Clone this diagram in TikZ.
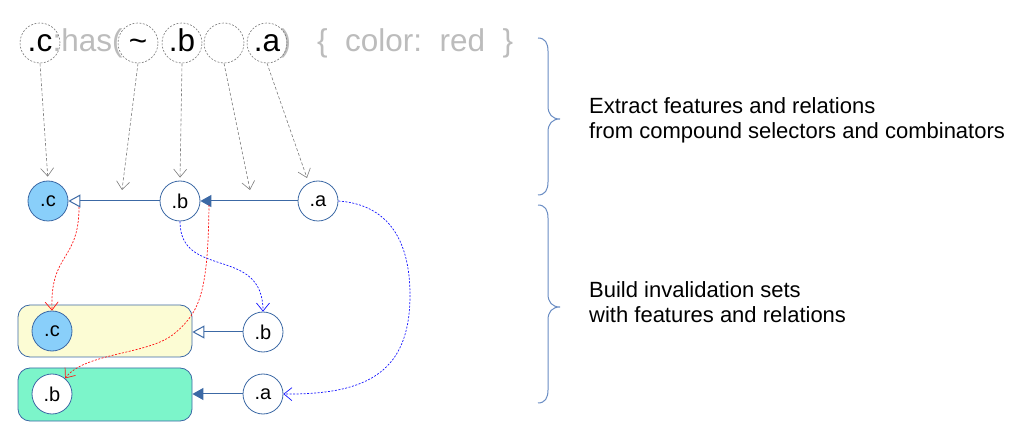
\documentclass[tikz,border=0pt]{standalone}
\usepackage{fontspec}
\setmainfont{Liberation Sans}
\usetikzlibrary{arrows.meta}
\definecolor{edgec}{RGB}{60,105,165}
\definecolor{bracec}{RGB}{105,140,195}
\definecolor{lightblu}{RGB}{137,207,250}
\definecolor{yellowbg}{RGB}{252,252,212}
\definecolor{greenbg}{RGB}{124,245,202}
\definecolor{txtgray}{RGB}{188,188,188}
\definecolor{dashgray}{RGB}{125,125,125}
\definecolor{redc}{RGB}{255,20,20}
\definecolor{bluec}{RGB}{20,20,255}
\tikzset{
  toptext/.style={inner sep=0pt, font=\fontsize{31.5}{36}\selectfont, text=black},
  graytext/.style={inner sep=0pt, font=\fontsize{31.5}{36}\selectfont, text=txtgray},
  dcircle/.style={circle, draw=dashgray, line width=0.6pt, dash pattern=on 2pt off 1.5pt, minimum size=40pt, inner sep=0pt},
  fnode/.style={circle, draw=edgec, line width=0.8pt, minimum size=40pt, inner sep=0pt, fill=white, font=\fontsize{20}{24}\selectfont},
  bluefill/.style={fill=lightblu},
  setbox/.style={rectangle, rounded corners=12pt, draw=edgec, line width=0.8pt, minimum width=174pt, minimum height=52pt, inner sep=0pt},
  maparrow/.style={draw=dashgray, line width=0.6pt, dash pattern=on 3pt off 2pt, -{Straight Barb[length=8pt,width=13pt]}},
  reldesc/.style={draw=edgec, line width=1pt, -{Triangle[open,length=12pt,width=13pt]}},
  relsib/.style={draw=edgec, line width=1pt, -{Triangle[length=11pt,width=12pt]}},
  redflow/.style={draw=redc, line width=0.7pt, dash pattern=on 2pt off 1.5pt, -{Straight Barb[length=8pt,width=13pt]}},
  blueflow/.style={draw=bluec, line width=0.7pt, dash pattern=on 2pt off 1.5pt, -{Straight Barb[length=8pt,width=13pt]}},
  bracepath/.style={draw=bracec, line width=1pt},
  sidetext/.style={inner sep=0pt, anchor=base west, font=\fontsize{22}{25}\selectfont, text=black}
}
\begin{document}
\begin{tikzpicture}[x=1pt, y=-1pt]
\useasboundingbox (0,0) rectangle (1034,438);

% top selector text
\node[toptext, anchor=base] (tx1) at (40,52) {.c};
\node[graytext, anchor=base west] (tx2) at (tx1.base east) {:has(};
\node[toptext, anchor=base] (tx3) at (138,52) {\char"007E};
\node[toptext, anchor=base] (tx4) at (182,52) {.b};
\node[toptext, anchor=base] (tx5) at (267,52) {.a};
\node[graytext, anchor=base west] (tx6) at (tx5.base east) {)};
\node[graytext, anchor=base west] (tx7) at (317,52) {\{\ \ color:\ \ red\ \ \}};

% dashed circles
\node[dcircle] (tc) at (40,43) {};
\node[dcircle] (tt) at (138,43) {};
\node[dcircle] (tb) at (182,43) {};
\node[dcircle] (te) at (224,43) {};
\node[dcircle] (ta) at (267,43) {};

% middle row
\node[fnode, bluefill] (mc) at (48,201) {.c};
\node[fnode] (mb) at (180,201) {.b};
\node[fnode] (ma) at (318,201) {.a};

\coordinate (p1) at (122,190);
\coordinate (p2) at (250,190);
\coordinate (p3) at (307,178);

\draw[reldesc] (mb) -- (mc);
\draw[relsib] (ma) -- (mb);

\draw[maparrow, shorten >=4pt] (tc.south) -- (mc.north);
\draw[maparrow] (tt.south) -- (p1);
\draw[maparrow, shorten >=3pt] (tb.south) -- (mb.north);
\draw[maparrow] (te.south) -- (p2);
\draw[maparrow] (ta.south) -- (p3);

% bottom sets
\node[setbox, fill=yellowbg] (ybox) at (105,331) {};
\node[setbox, fill=greenbg, minimum height=53pt] (gbox) at (105,394.5) {};
\node[fnode, bluefill] (yc) at (52,331) {.c};
\node[fnode] (gb) at (52,394) {.b};
\node[fnode] (lb) at (263,332) {.b};
\node[fnode] (la) at (263,394) {.a};

\draw[reldesc] (lb) -- (lb -| ybox.east);
\draw[relsib] (la) -- (la -| gbox.east);

% flows
\coordinate (r1) at (79,207);
\coordinate (r2) at (209,205);
\draw[redflow] (r1) .. controls (79,262) and (50,252) .. (yc.north);
\draw[redflow] (r2) .. controls (208,292) and (200,312) .. (175,333)
  .. controls (150,355) and (85,352) .. (gb.50);
\draw[blueflow] (mb.south) .. controls (180,280) and (263,245) .. (lb.north);
\draw[blueflow] (ma.east) .. controls (395,205) and (410,250) .. (410,295)
  .. controls (410,370) and (370,395) .. (la.east);

% braces
\draw[bracepath] (538,38) .. controls (545,38) and (548,43) .. (548,51) -- (548,106)
  .. controls (548,114) and (552,119) .. (560,119)
  .. controls (552,119) and (548,124) .. (548,132) -- (548,182)
  .. controls (548,190) and (545,195) .. (538,195);
\draw[bracepath] (538,205) .. controls (545,205) and (548,210) .. (548,218) -- (548,294)
  .. controls (548,302) and (552,307) .. (560,307)
  .. controls (552,307) and (548,312) .. (548,320) -- (548,390)
  .. controls (548,398) and (545,403) .. (538,403);

% side texts
\node[sidetext] (s1) at (589,114) {Extract features and relations};
\node[sidetext] (s2) at (589,139) {from compound selectors and combinators};
\node[sidetext] (s3) at (589,298) {Build invalidation sets};
\node[sidetext] (s4) at (589,323) {with features and relations};
\end{tikzpicture}
\end{document}
